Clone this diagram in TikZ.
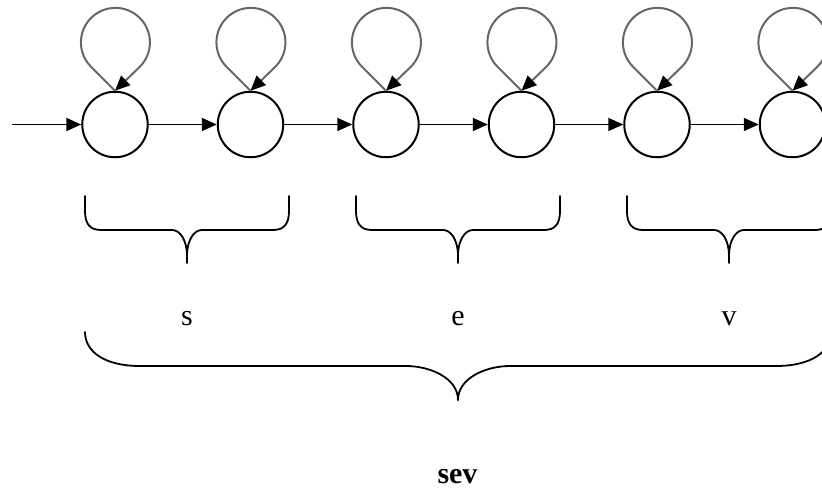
\documentclass[tikz,border=0pt]{standalone}
\usepackage{fontspec}
\setmainfont{Liberation Serif}
\usetikzlibrary{arrows.meta}
\tikzset{
  state/.style={circle, draw=black, line width=2pt, minimum size=65.5pt, inner sep=0pt, fill=white},
  edge/.style={line width=1.8pt, -{Triangle[length=15pt,width=13pt]}},
  selfloop/.style={draw=black!60, line width=2pt, -{Triangle[length=15pt,width=13pt,color=black]}},
  brace/.style={line width=1.8pt, line cap=round},
  lbl/.style={font=\fontsize{30}{36}\selectfont, anchor=base, inner sep=0pt},
  % brace under a pair of states: origin at the top centre
  pics/smallbrace/.style={code={
    \draw[brace] (-102,0) -- (-102,-15) .. controls (-102,-28) and (-97,-34) .. (-86,-34)
      -- (-15,-34) .. controls (-7,-34) and (0,-44) .. (0,-60) -- (0,-67);
    \draw[brace] (102,0) -- (102,-15) .. controls (102,-28) and (97,-34) .. (86,-34)
      -- (15,-34) .. controls (7,-34) and (0,-44) .. (0,-60);
  }},
  % wide brace under the whole chain
  pics/bigbrace/.style={code={
    \draw[brace] (-373,0) .. controls (-373,-20) and (-353,-34) .. (-318,-34)
      -- (-52,-34) .. controls (-28,-34) and (0,-46) .. (0,-68);
    \draw[brace] (373,0) .. controls (373,-20) and (353,-34) .. (318,-34)
      -- (52,-34) .. controls (28,-34) and (0,-46) .. (0,-68);
  }}
}
\begin{document}
\begin{tikzpicture}[x=1pt,y=1pt]
\clip (0,0) rectangle (822,-489);

% chain of states
\foreach \i/\x in {1/115,2/250.5,3/386,4/521.5,5/657,6/792.5}
  \node[state] (n\i) at (\x,-124.5) {};

% self loops
\foreach \i in {1,...,6}
  \draw[selfloop] (n\i.north) -- ++(135:33.9)
    arc[start angle=225, end angle=-45, radius=34.5] -- (n\i.north);

% transitions
\coordinate (in) at (12,-124.5);
\draw[edge] (in) -- (n1);
\foreach \a/\b in {1/2,2/3,3/4,4/5,5/6}
  \draw[edge] (n\a) -- (n\b);

% braces
\pic at (187,-196) {smallbrace};
\pic at (458,-196) {smallbrace};
\pic at (729,-196) {smallbrace};
\pic at (458,-332) {bigbrace};

% labels
\node[lbl] (s) at (187,-325) {s};
\node[lbl] (e) at (458,-325) {e};
\node[lbl] (v) at (729,-325) {v};
\node[lbl, font=\fontsize{30}{36}\selectfont\bfseries] (sev) at (457.5,-483) {sev};
\end{tikzpicture}
\end{document}
